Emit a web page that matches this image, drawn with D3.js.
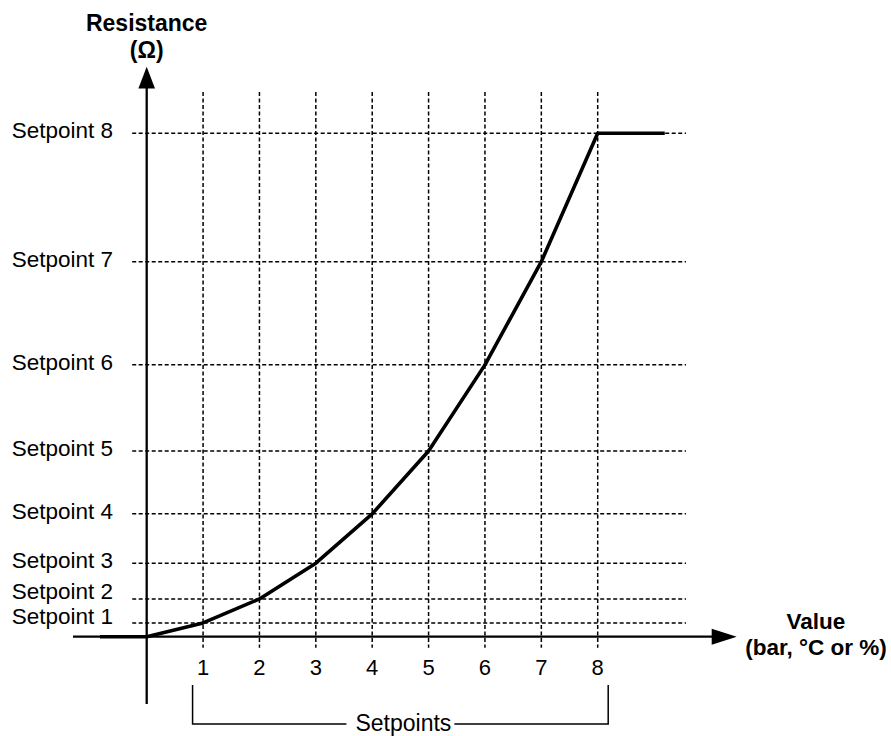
<!DOCTYPE html>
<html>
<head>
<meta charset="utf-8">
<script src="https://cdn.jsdelivr.net/npm/d3@7"></script>
<style>
  html, body { margin: 0; padding: 0; background: #fff; }
  svg { display: block; }
  text { font-family: "Liberation Sans", Arial, Helvetica, sans-serif; fill: #000; }
</style>
</head>
<body>
<svg id="chart" width="891" height="736"></svg>
<script>
// Setpoint index along the value axis
const setpoints = [1, 2, 3, 4, 5, 6, 7, 8];
// Resistance reached at each setpoint (relative units, setpoint 8 = 100)
const resistance = [2.74, 7.5, 14.6, 24.4, 36.9, 54.0, 74.5, 100];
// Labels on the resistance axis
const yLabels = ["Setpoint 1", "Setpoint 2", "Setpoint 3", "Setpoint 4",
                 "Setpoint 5", "Setpoint 6", "Setpoint 7", "Setpoint 8"];
// Labels on the value axis
const xLabels = ["1", "2", "3", "4", "5", "6", "7", "8"];
// Curve runs flat at zero below the first value and flat at the maximum past the last
const curveStart = -0.83;
const curveEnd = 9.19;

const svg = d3.select("#chart");

const x = d3.scaleLinear().domain([0, 8]).range([146.7, 597.7]);
const y = d3.scaleLinear().domain([0, 100]).range([636.7, 133.3]);

const x0 = x(0), y0 = y(0);

// Dashed grid: horizontal line for every setpoint resistance
const grid = svg.append("g")
  .attr("stroke", "#000")
  .attr("stroke-width", 1.5)
  .attr("stroke-dasharray", "4,2.5");

grid.selectAll("line.h")
  .data(resistance)
  .join("line")
  .attr("class", "h")
  .attr("x1", x0 - 14.5).attr("x2", 686)
  .attr("y1", d => y(d)).attr("y2", d => y(d));

// Dashed grid: vertical line for every setpoint value
grid.selectAll("line.v")
  .data(setpoints)
  .join("line")
  .attr("class", "v")
  .attr("x1", d => x(d)).attr("x2", d => x(d))
  .attr("y1", 92).attr("y2", y0 + 11);

// Axes with arrow heads
const axes = svg.append("g");
axes.append("line")
  .attr("x1", x0).attr("x2", x0)
  .attr("y1", 704).attr("y2", 86)
  .attr("stroke", "#000").attr("stroke-width", 2.3);
axes.append("path")
  .attr("d", `M${x0},66.7 L${x0 - 8.3},88.5 L${x0 + 8.3},88.5 Z`)
  .attr("fill", "#000");

axes.append("line")
  .attr("x1", 73).attr("x2", 714)
  .attr("y1", y0).attr("y2", y0)
  .attr("stroke", "#000").attr("stroke-width", 2.3);
axes.append("path")
  .attr("d", `M736.7,${y0} L711.7,${y0 - 8} L711.7,${y0 + 8} Z`)
  .attr("fill", "#000");

// Resistance curve
const curveData = [[curveStart, 0], [0, 0]]
  .concat(setpoints.map((s, i) => [s, resistance[i]]))
  .concat([[curveEnd, resistance[resistance.length - 1]]]);

svg.append("path")
  .datum(curveData)
  .attr("fill", "none")
  .attr("stroke", "#000")
  .attr("stroke-width", 3.6)
  .attr("stroke-linejoin", "round")
  .attr("d", d3.line().x(d => x(d[0])).y(d => y(d[1])));

// Setpoint labels on the resistance axis, pushed up where they would collide
const labelSize = 22.5;
const baselines = resistance.map(r => y(r) + 5);
let limit = y0 - 12.5;
for (let i = 0; i < baselines.length; i++) {
  if (baselines[i] > limit) baselines[i] = limit;
  limit = baselines[i] - 25;
}
svg.append("g")
  .selectAll("text")
  .data(yLabels)
  .join("text")
  .attr("x", 113)
  .attr("y", (d, i) => baselines[i])
  .attr("text-anchor", "end")
  .attr("font-size", labelSize)
  .text(d => d);

// Value tick labels
svg.append("g")
  .selectAll("text")
  .data(xLabels)
  .join("text")
  .attr("x", (d, i) => x(setpoints[i]))
  .attr("y", 675)
  .attr("text-anchor", "middle")
  .attr("font-size", 22)
  .text(d => d);

// Axis titles
const yTitle = svg.append("text")
  .attr("text-anchor", "middle")
  .attr("font-size", 23)
  .attr("font-weight", "bold");
yTitle.append("tspan").attr("x", x0).attr("y", 31).text("Resistance");
yTitle.append("tspan").attr("x", x0).attr("y", 58).text("(Ω)");

const xTitle = svg.append("text")
  .attr("text-anchor", "middle")
  .attr("font-size", 22.5)
  .attr("font-weight", "bold");
xTitle.append("tspan").attr("x", 816).attr("y", 629).text("Value");
xTitle.append("tspan").attr("x", 816).attr("y", 655).text("(bar, °C or %)");

// Bracket grouping the setpoints
const bx1 = x(setpoints[0]) - 10.5;
const bx2 = x(setpoints[setpoints.length - 1]) + 10.5;
const bTop = 685, bBottom = 724;
const bMid = (bx1 + bx2) / 2;

const bracketLabel = svg.append("text")
  .attr("x", bMid + 3)
  .attr("y", 731)
  .attr("text-anchor", "middle")
  .attr("font-size", 23)
  .text("Setpoints");
const bw = bracketLabel.node().getComputedTextLength();
const gapL = bMid + 3 - bw / 2 - 9;
const gapR = bMid + 3 + bw / 2 + 3;

const bracket = svg.append("g")
  .attr("fill", "none")
  .attr("stroke", "#000")
  .attr("stroke-width", 1.5);
bracket.append("path")
  .attr("d", `M${bx1},${bTop} L${bx1},${bBottom} L${gapL},${bBottom}`);
bracket.append("path")
  .attr("d", `M${gapR},${bBottom} L${bx2},${bBottom} L${bx2},${bTop}`);
</script>
</body>
</html>
